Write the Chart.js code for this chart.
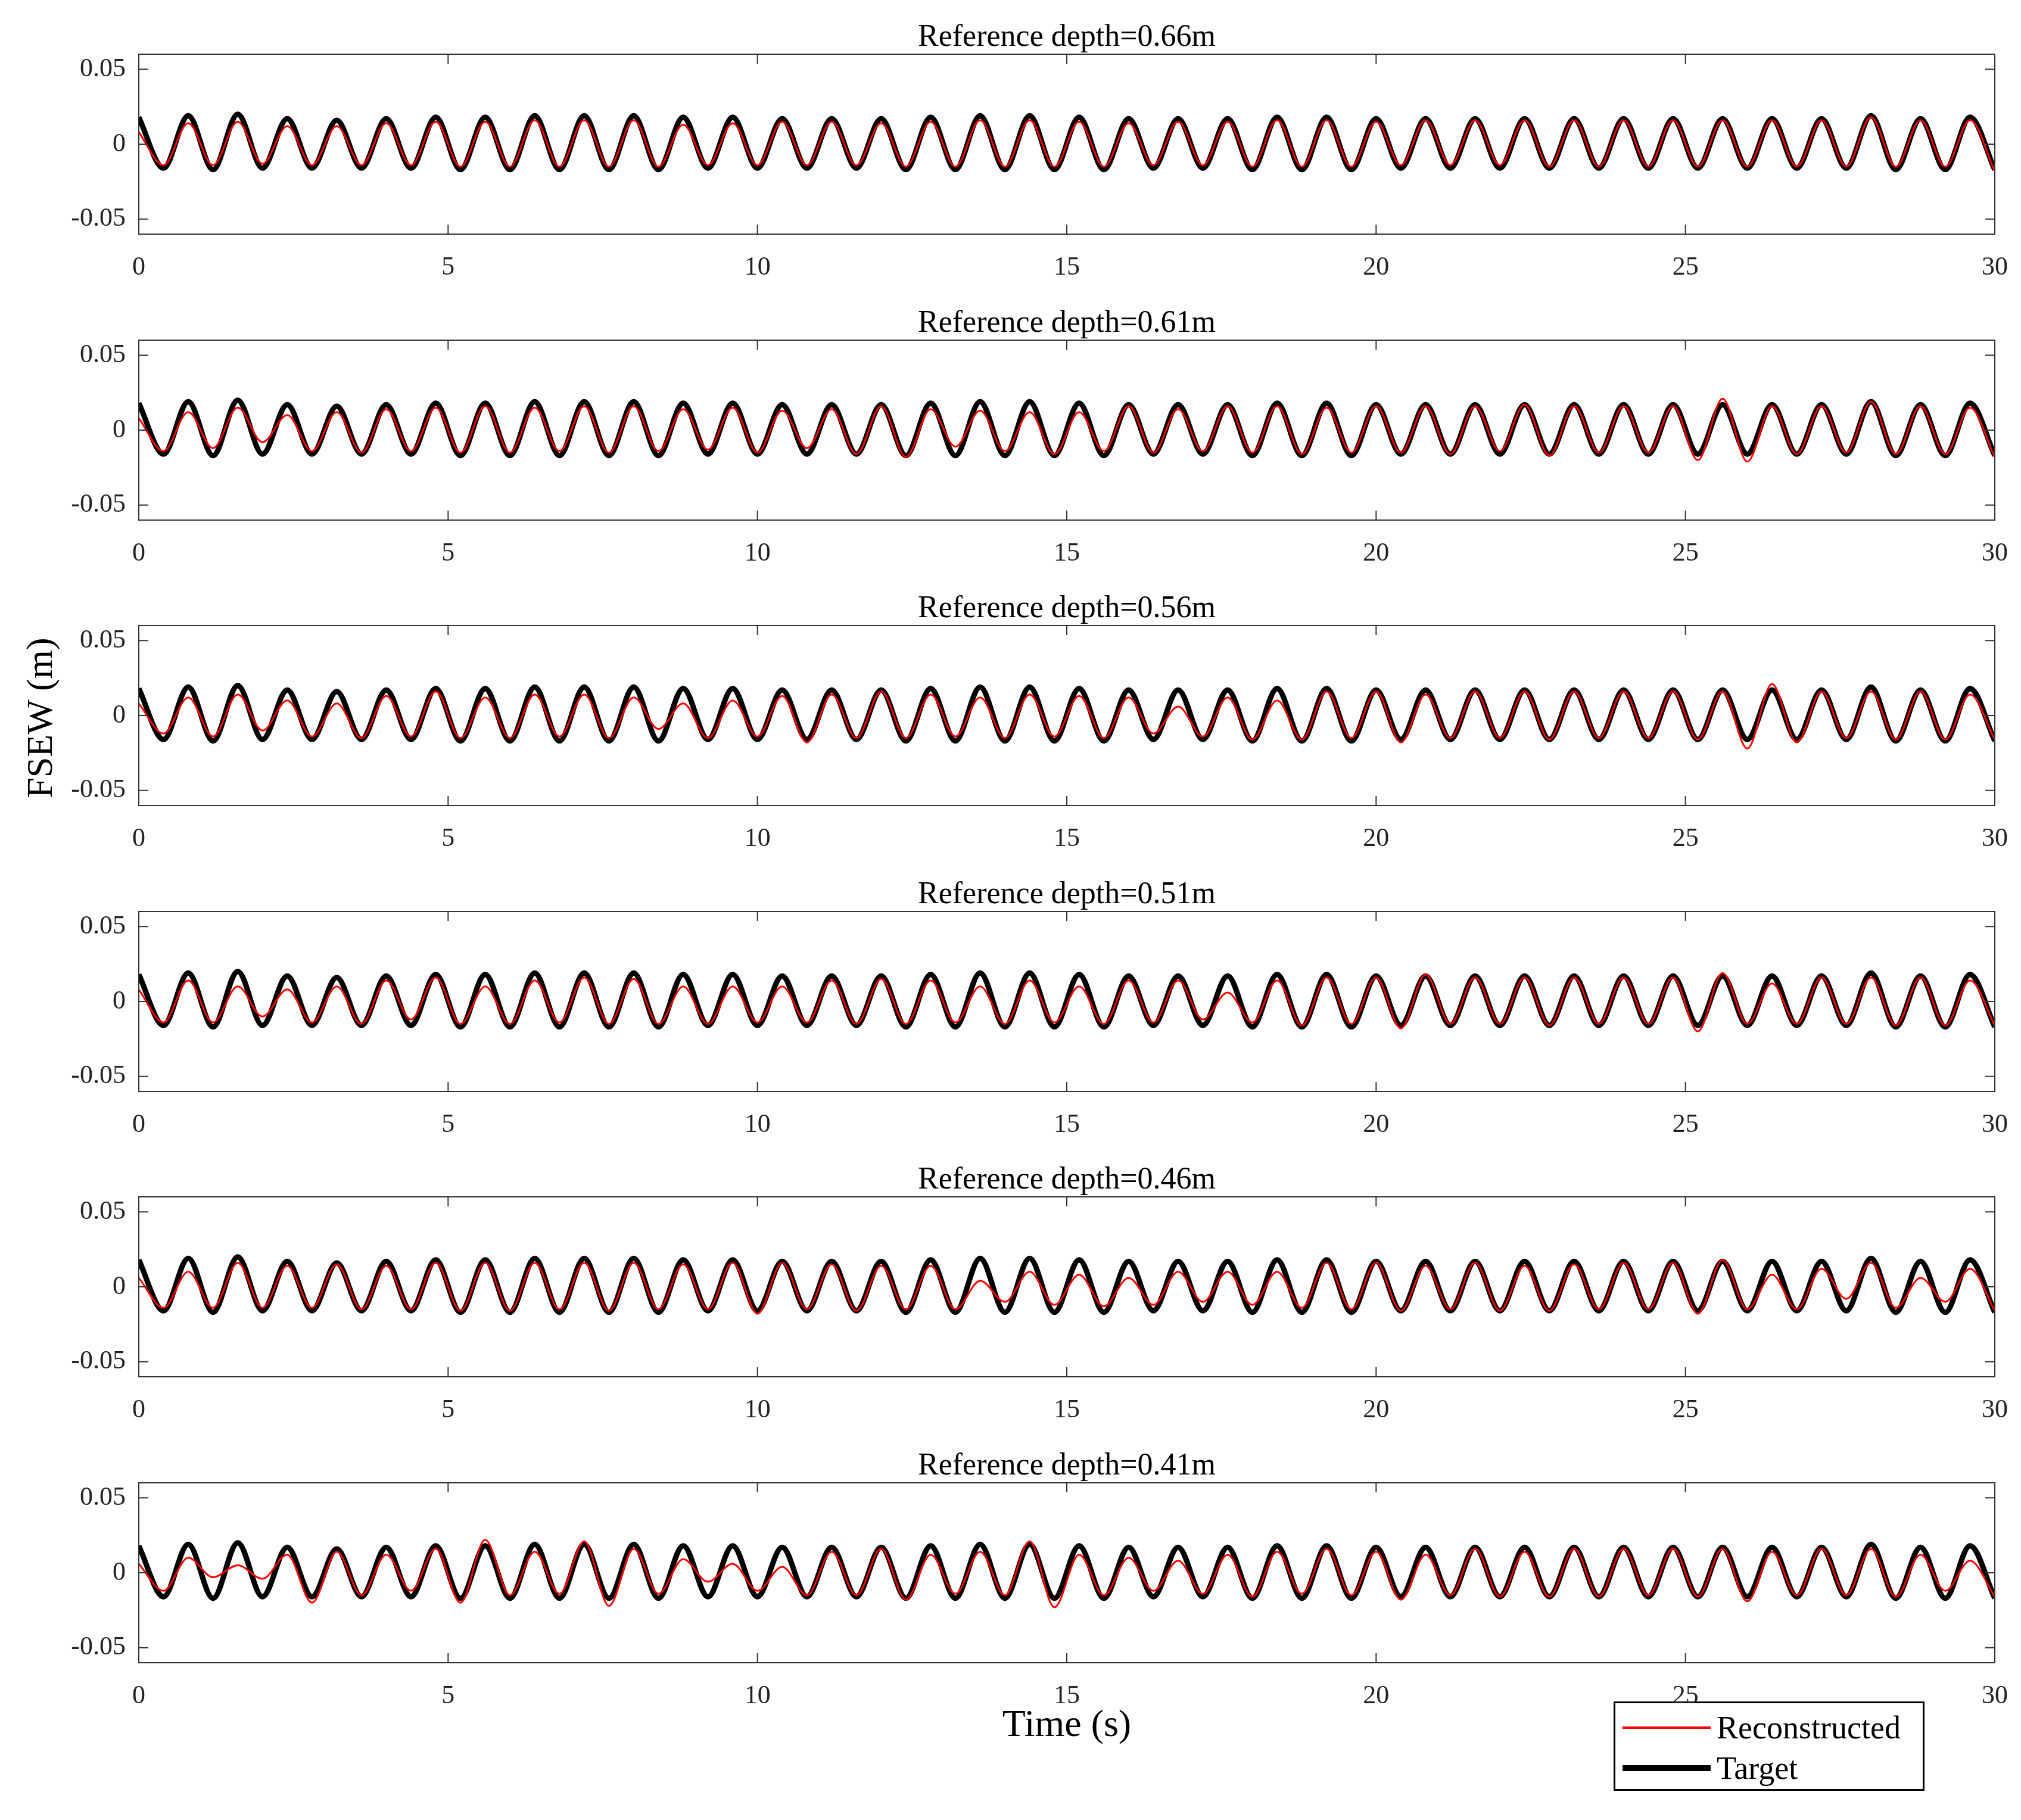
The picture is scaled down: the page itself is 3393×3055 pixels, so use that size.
<!DOCTYPE html>
<html>
<head>
<meta charset="utf-8">
<script src="https://cdn.jsdelivr.net/npm/chart.js@4/dist/chart.umd.min.js"></script>
<style>
  body { margin:0; background:#fff; width:3393px; height:3055px; position:relative; font-family:"Liberation Serif", serif; }
  .panel { position:absolute; left:0; width:3393px; height:480px; }
  #ylab { position:absolute; left:66px; top:1205px; transform:translate(-50%,-50%) rotate(-90deg); font-size:62px; white-space:nowrap; }
  #xlab { position:absolute; left:1791px; top:2893px; transform:translate(-50%,-50%); font-size:64px; }
  #legend { position:absolute; left:2709px; top:2856px; width:522px; height:150px; border:3px solid #000; box-sizing:border-box; font-size:54px; }
  .row { position:absolute; left:12px; height:70px; display:flex; align-items:center; }
  .sw { width:148px; margin-right:10px; }
</style>
</head>
<body>
<div id="ylab">FSEW (m)</div>
<div id="xlab">Time (s)</div>
<div id="legend">
  <div class="row" style="top:6px"><div class="sw" style="border-top:4px solid #ff0000"></div>Reconstructed</div>
  <div class="row" style="top:74px"><div class="sw" style="border-top:10px solid #000"></div>Target</div>
</div>
<script>
// sample times: peaks at 0,0.8,...,29.6 ; troughs at 0.4,1.2,...,30
const peakTimes = [0,0.8,1.6,2.4,3.2,4,4.8,5.6,6.4,7.2,8,8.8,9.6,10.4,11.2,12,12.8,13.6,14.4,15.2,16,16.8,17.6,18.4,19.2,20,20.8,21.6,22.4,23.2,24,24.8,25.6,26.4,27.2,28,28.8,29.6];
const troughTimes = [0.4,1.2,2,2.8,3.6,4.4,5.2,6,6.8,7.6,8.4,9.2,10,10.8,11.6,12.4,13.2,14,14.8,15.6,16.4,17.2,18,18.8,19.6,20.4,21.2,22,22.8,23.6,24.4,25.2,26,26.8,27.6,28.4,29.2,30];

const depths = ['0.66','0.61','0.56','0.51','0.46','0.41'];
const xTicks = [0,5,10,15,20,25,30];
const yTicks = [-0.05,0,0.05];

const targetPeaks = [0.018,0.019,0.02,0.017,0.016,0.017,0.018,0.018,0.019,0.019,0.019,0.018,0.018,0.017,0.017,0.017,0.018,0.019,0.019,0.018,0.017,0.017,0.017,0.018,0.018,0.017,0.017,0.017,0.017,0.017,0.017,0.017,0.017,0.017,0.017,0.019,0.017,0.018];
const targetTroughs = [-0.016,-0.017,-0.016,-0.016,-0.016,-0.016,-0.017,-0.017,-0.017,-0.017,-0.017,-0.016,-0.016,-0.016,-0.016,-0.017,-0.017,-0.017,-0.017,-0.017,-0.016,-0.016,-0.017,-0.017,-0.017,-0.016,-0.016,-0.016,-0.016,-0.016,-0.016,-0.016,-0.016,-0.016,-0.016,-0.017,-0.017,-0.017];

const recPeaks066 = [0.008,0.014,0.015,0.012,0.012,0.014,0.015,0.015,0.016,0.016,0.016,0.013,0.014,0.015,0.015,0.014,0.015,0.016,0.016,0.015,0.014,0.015,0.015,0.016,0.016,0.015,0.016,0.016,0.016,0.016,0.016,0.016,0.016,0.016,0.016,0.018,0.016,0.016];
const recTroughs066 = [-0.014,-0.014,-0.013,-0.014,-0.014,-0.014,-0.015,-0.015,-0.015,-0.015,-0.015,-0.014,-0.014,-0.014,-0.014,-0.015,-0.015,-0.015,-0.015,-0.015,-0.014,-0.014,-0.015,-0.015,-0.015,-0.014,-0.014,-0.014,-0.015,-0.015,-0.015,-0.015,-0.015,-0.015,-0.015,-0.015,-0.015,-0.018];

const recPeaks061 = [0.008,0.012,0.015,0.01,0.012,0.014,0.015,0.016,0.015,0.016,0.016,0.014,0.015,0.013,0.014,0.016,0.014,0.013,0.012,0.012,0.016,0.014,0.016,0.016,0.015,0.016,0.016,0.016,0.017,0.016,0.016,0.016,0.021,0.016,0.016,0.019,0.016,0.015];
const recTroughs061 = [-0.014,-0.012,-0.008,-0.014,-0.015,-0.014,-0.015,-0.015,-0.014,-0.015,-0.014,-0.013,-0.015,-0.012,-0.016,-0.018,-0.011,-0.014,-0.016,-0.014,-0.015,-0.014,-0.015,-0.016,-0.015,-0.015,-0.016,-0.014,-0.017,-0.015,-0.015,-0.02,-0.021,-0.016,-0.015,-0.016,-0.016,-0.018];

const recPeaks056 = [0.008,0.012,0.014,0.01,0.008,0.013,0.016,0.012,0.014,0.014,0.012,0.008,0.01,0.013,0.014,0.016,0.014,0.012,0.014,0.013,0.012,0.006,0.012,0.01,0.016,0.016,0.014,0.016,0.016,0.016,0.016,0.016,0.016,0.021,0.016,0.016,0.016,0.014];
const recTroughs056 = [-0.012,-0.014,-0.01,-0.014,-0.015,-0.014,-0.015,-0.015,-0.014,-0.015,-0.009,-0.015,-0.014,-0.018,-0.015,-0.015,-0.014,-0.015,-0.014,-0.015,-0.012,-0.014,-0.016,-0.016,-0.015,-0.018,-0.015,-0.015,-0.016,-0.015,-0.015,-0.016,-0.022,-0.018,-0.015,-0.016,-0.016,-0.016];

const recPeaks051 = [0.008,0.014,0.01,0.008,0.01,0.014,0.016,0.01,0.014,0.016,0.015,0.01,0.01,0.01,0.014,0.015,0.014,0.01,0.014,0.01,0.014,0.014,0.006,0.014,0.016,0.016,0.018,0.016,0.016,0.016,0.016,0.016,0.019,0.012,0.016,0.016,0.016,0.014];
const recTroughs051 = [-0.014,-0.014,-0.01,-0.014,-0.015,-0.012,-0.015,-0.015,-0.014,-0.015,-0.015,-0.015,-0.014,-0.014,-0.015,-0.015,-0.014,-0.015,-0.014,-0.015,-0.014,-0.012,-0.014,-0.016,-0.015,-0.018,-0.015,-0.015,-0.016,-0.015,-0.015,-0.02,-0.015,-0.015,-0.015,-0.016,-0.016,-0.016];

const recPeaks046 = [0.006,0.01,0.016,0.014,0.015,0.014,0.016,0.016,0.016,0.016,0.016,0.015,0.016,0.016,0.015,0.014,0.014,0.004,0.01,0.008,0.006,0.01,0.01,0.01,0.016,0.016,0.014,0.016,0.014,0.015,0.016,0.016,0.018,0.008,0.012,0.016,0.006,0.012];
const recTroughs046 = [-0.014,-0.014,-0.014,-0.014,-0.015,-0.015,-0.016,-0.016,-0.015,-0.016,-0.015,-0.015,-0.018,-0.015,-0.016,-0.015,-0.015,-0.01,-0.012,-0.013,-0.012,-0.01,-0.012,-0.014,-0.015,-0.016,-0.015,-0.016,-0.016,-0.015,-0.015,-0.018,-0.015,-0.015,-0.008,-0.014,-0.01,-0.016];

const recPeaks041 = [0.006,0.01,0.005,0.012,0.014,0.012,0.016,0.022,0.014,0.021,0.016,0.009,0.006,0.004,0.014,0.016,0.012,0.014,0.021,0.012,0.01,0.008,0.012,0.014,0.016,0.014,0.012,0.016,0.014,0.016,0.016,0.016,0.016,0.014,0.016,0.016,0.012,0.008];
const recTroughs041 = [-0.012,-0.003,-0.004,-0.02,-0.015,-0.012,-0.02,-0.015,-0.014,-0.022,-0.014,-0.006,-0.012,-0.015,-0.015,-0.018,-0.014,-0.015,-0.023,-0.015,-0.012,-0.014,-0.016,-0.014,-0.015,-0.018,-0.015,-0.016,-0.016,-0.016,-0.015,-0.016,-0.019,-0.015,-0.015,-0.016,-0.012,-0.016];

const recPeaks = [recPeaks066,recPeaks061,recPeaks056,recPeaks051,recPeaks046,recPeaks041];
const recTroughs = [recTroughs066,recTroughs061,recTroughs056,recTroughs051,recTroughs046,recTroughs041];

function merge(peaks, troughs) {
  const pts = [];
  for (let i = 0; i < peakTimes.length; i++) {
    pts.push({x: peakTimes[i], y: peaks[i]});
    pts.push({x: troughTimes[i], y: troughs[i]});
  }
  return pts;
}

// box + inward tick marks + title centred over the plot, like the matlab axes
const boxPlugin = {
  id: 'box',
  afterDraw(chart, args, opts) {
    const c = chart.ctx, a = chart.chartArea;
    const xs = chart.scales.x, ys = chart.scales.y;
    c.save();
    c.strokeStyle = '#333';
    c.lineWidth = 2;
    c.strokeRect(a.left, a.top, a.right - a.left, a.bottom - a.top);
    c.beginPath();
    xTicks.forEach(v => {
      const px = xs.getPixelForValue(v);
      c.moveTo(px, a.bottom); c.lineTo(px, a.bottom - 16);
      c.moveTo(px, a.top); c.lineTo(px, a.top + 16);
    });
    yTicks.forEach(v => {
      const py = ys.getPixelForValue(v);
      c.moveTo(a.left, py); c.lineTo(a.left + 16, py);
      c.moveTo(a.right, py); c.lineTo(a.right - 16, py);
    });
    c.stroke();
    c.fillStyle = '#000';
    c.font = '52px "Liberation Serif"';
    c.textAlign = 'center';
    c.textBaseline = 'bottom';
    c.fillText(opts.text, (a.left + a.right) / 2, a.top - 2);
    c.restore();
  }
};

depths.forEach((d, i) => {
  const div = document.createElement('div');
  div.className = 'panel';
  div.style.top = Math.round((5 + 220 * i) * 2.18) + 'px';
  const cv = document.createElement('canvas');
  div.appendChild(cv);
  document.body.appendChild(div);

  new Chart(cv, {
    type: 'line',
    data: {
      datasets: [{
        label: 'Reconstructed',
        data: merge(recPeaks[i], recTroughs[i]),
        borderColor: '#ff0000',
        borderWidth: 3,
        pointRadius: 0,
        cubicInterpolationMode: 'monotone'
      }, {
        label: 'Target',
        data: merge(targetPeaks, targetTroughs),
        borderColor: '#000',
        borderWidth: 9,
        pointRadius: 0,
        cubicInterpolationMode: 'monotone'
      }]
    },
    options: {
      responsive: true,
      maintainAspectRatio: false,
      devicePixelRatio: 1,
      animation: false,
      layout: { padding: { top: 80, right: 44, bottom: 3, left: 0 } },
      plugins: {
        legend: { display: false },
        tooltip: { enabled: false },
        title: { display: false },
        box: { text: 'Reference depth=' + d + 'm' }
      },
      scales: {
        x: {
          type: 'linear', min: 0, max: 30,
          afterBuildTicks: s => { s.ticks = xTicks.map(v => ({value: v})); },
          afterFit: s => { s.height = 95; },
          grid: { display: false }, border: { display: false },
          ticks: { color: '#222', padding: 22, maxRotation: 0,
                   font: { family: 'Liberation Serif', size: 44 } }
        },
        y: {
          min: -0.06, max: 0.06,
          afterBuildTicks: s => { s.ticks = yTicks.map(v => ({value: v})); },
          afterFit: s => { s.width = 233; },
          grid: { display: false }, border: { display: false },
          ticks: { color: '#222', padding: 14,
                   callback: v => v === 0 ? '0' : String(v),
                   font: { family: 'Liberation Serif', size: 44 } }
        }
      }
    },
    plugins: [boxPlugin]
  });
});
</script>
</body>
</html>
